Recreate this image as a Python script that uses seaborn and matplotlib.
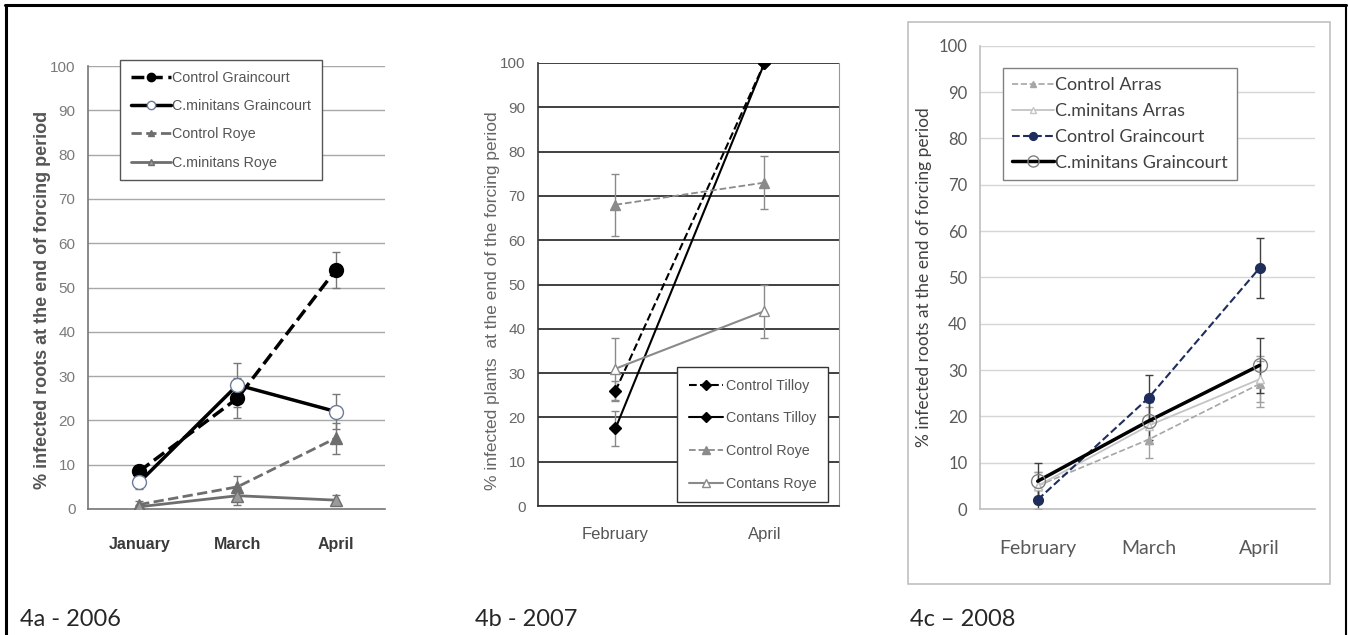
import numpy as np
import pandas as pd
import matplotlib
matplotlib.use("Agg")
import matplotlib.pyplot as plt
import seaborn as sns
from matplotlib.lines import Line2D
from matplotlib.patches import Rectangle

# ---- 4a - 2006 ----
months_a = ["January", "March", "April"]
ctrl_grain_a = [8.5, 25, 54]
ctrl_grain_a_err = [1.5, 4.5, 4]
cmin_grain_a = [6, 28, 22]
cmin_grain_a_err = [1.5, 5, 4]
ctrl_roye_a = [1, 5, 16]
ctrl_roye_a_err = [0.8, 2.5, 3.5]
cmin_roye_a = [0.5, 3, 2]
cmin_roye_a_err = [0.5, 2, 1.2]

# ---- 4b - 2007 ----
months_b = ["February", "April"]
ctrl_tilloy_b = [26, 100]
ctrl_tilloy_b_err = [2.2, 0]
cont_tilloy_b = [17.5, 100]
cont_tilloy_b_err = [4, 0]
ctrl_roye_b = [68, 73]
ctrl_roye_b_err = [7, 6]
cont_roye_b = [31, 44]
cont_roye_b_err = [7, 6]

# ---- 4c - 2008 ----
months_c = ["February", "March", "April"]
ctrl_arras_c = [5, 15, 27]
ctrl_arras_c_err = [3, 4, 5]
cmin_arras_c = [5, 18, 28]
cmin_arras_c_err = [3, 4, 5]
ctrl_grain_c = [2, 24, 52]
ctrl_grain_c_err = [2, 5, 6.5]
cmin_grain_c = [6, 19, 31]
cmin_grain_c_err = [4, 4, 6]

yticks = list(range(0, 101, 10))

W, H = 1349, 635

sns.set_style("white")
plt.rcParams["font.family"] = ["Liberation Sans", "DejaVu Sans"]
calib = ["Lato", "Open Sans", "DejaVu Sans"]


def px_axes(fig, left, top, right, bottom):
    return fig.add_axes([left / W, 1 - bottom / H, (right - left) / W, (bottom - top) / H])


def draw_series(ax, months, vals, errs, label, color, ls, lw, marker, ms, mfc, mec, ecolor):
    df = pd.DataFrame({"pos": np.arange(len(months)), "value": vals, "err": errs})
    ax.errorbar(df["pos"], df["value"], yerr=df["err"], fmt="none", ecolor=ecolor,
                elinewidth=1, capsize=3, capthick=1, zorder=2)
    sns.lineplot(data=df, x="pos", y="value", ax=ax, color=color, linestyle=ls,
                 linewidth=lw, marker=marker, markersize=ms, markerfacecolor=mfc,
                 markeredgecolor=mec, markeredgewidth=1, zorder=3, legend=False)
    line = ax.lines[-1]
    line.set_label(label)
    ax.set_xlabel("")
    return line


def style_axis(ax, months, grid_color, grid_lw, spine_color, right_color=None, xpad=12):
    ax.set_ylim(0, 100)
    ax.set_xlim(-0.52, len(months) - 0.5)
    ax.set_yticks(yticks)
    ax.set_xticks(range(len(months)))
    ax.set_xticklabels(months)
    ax.set_xticks([i - 0.5 for i in range(len(months) + 1)], minor=True)
    ax.tick_params(axis="x", which="major", length=0, pad=xpad)
    ax.tick_params(axis="x", which="minor", length=5, direction="out", color=spine_color)
    ax.tick_params(axis="y", length=5, direction="out", color=spine_color, pad=4)
    ax.yaxis.grid(True, color=grid_color, linewidth=grid_lw)
    ax.set_axisbelow(True)
    ax.set_xlabel("")
    for s in ["top", "right"]:
        ax.spines[s].set_visible(False)
    for s in ["left", "bottom"]:
        ax.spines[s].set_color(spine_color)
        ax.spines[s].set_linewidth(1.2)
    if right_color:
        ax.spines["right"].set_visible(True)
        ax.spines["right"].set_color(right_color)


fig = plt.figure(figsize=(W / 100, H / 100), dpi=100)

# ---------------- panel a ----------------
ax_a = px_axes(fig, 88, 66, 385, 509)
style_axis(ax_a, months_a, "#a8a8a8", 1.0, "#777777", xpad=20)
h_a = [
    draw_series(ax_a, months_a, ctrl_grain_a, ctrl_grain_a_err, "Control Graincourt",
                "black", "--", 2.5, "o", 10, "black", "black", "#777777"),
    draw_series(ax_a, months_a, cmin_grain_a, cmin_grain_a_err, "C.minitans Graincourt",
                "black", "-", 2.5, "o", 10, "white", "#6d7a99", "#777777"),
    draw_series(ax_a, months_a, ctrl_roye_a, ctrl_roye_a_err, "Control Roye",
                "#6e6e6e", "--", 2.0, "^", 8, "#6e6e6e", "#6e6e6e", "#777777"),
    draw_series(ax_a, months_a, cmin_roye_a, cmin_roye_a_err, "C.minitans Roye",
                "#6e6e6e", "-", 2.0, "^", 8, "#9a9a9a", "#6e6e6e", "#777777"),
]
for t in ax_a.get_yticklabels():
    t.set_fontsize(11)
    t.set_color("#7a7a7a")
for t in ax_a.get_xticklabels():
    t.set_fontsize(11.5)
    t.set_fontweight("bold")
    t.set_color("#3a3a3a")
ax_a.set_ylabel("% infected roots at the end of forcing period", fontsize=13,
                fontweight="bold", color="#555555", va="center")
ax_a.yaxis.set_label_coords((43 - 88) / 297, (509 - 300) / 443)
leg = ax_a.legend(handles=h_a, loc="upper left", bbox_to_anchor=((120 - 88) / 297, (509 - 60) / 443),
                  borderaxespad=0, frameon=True, fancybox=False, edgecolor="#555555",
                  framealpha=1, fontsize=10.3, handlelength=2.8, handletextpad=0.1,
                  labelspacing=1.0, borderpad=0.75, markerscale=0.6)
for t in leg.get_texts():
    t.set_color("#555555")

# ---------------- panel b ----------------
ax_b = px_axes(fig, 538, 63, 839, 506)
style_axis(ax_b, months_b, "#404040", 1.4, "#333333", right_color="#999999", xpad=15)
h_b = [
    draw_series(ax_b, months_b, ctrl_tilloy_b, ctrl_tilloy_b_err, "Control Tilloy",
                "black", "--", 1.5, "D", 6, "black", "black", "#888888"),
    draw_series(ax_b, months_b, cont_tilloy_b, cont_tilloy_b_err, "Contans Tilloy",
                "black", "-", 1.5, "D", 6, "black", "black", "#888888"),
    draw_series(ax_b, months_b, ctrl_roye_b, ctrl_roye_b_err, "Control Roye",
                "#8a8a8a", "--", 1.3, "^", 7, "#8a8a8a", "#8a8a8a", "#8a8a8a"),
    draw_series(ax_b, months_b, cont_roye_b, cont_roye_b_err, "Contans Roye",
                "#8a8a8a", "-", 1.5, "^", 7, "white", "#8a8a8a", "#8a8a8a"),
]
for t in ax_b.get_yticklabels():
    t.set_fontsize(11)
    t.set_color("#666666")
for t in ax_b.get_xticklabels():
    t.set_fontsize(12)
    t.set_color("#555555")
ax_b.set_ylabel("% infected plants  at the end of the forcing period", fontsize=12.5,
                color="#666666", va="center")
ax_b.yaxis.set_label_coords((493 - 538) / 301, (506 - 301) / 443)
leg = ax_b.legend(handles=h_b, loc="lower right", bbox_to_anchor=((828 - 538) / 301, (506 - 502) / 443),
                  borderaxespad=0, frameon=True, fancybox=False, edgecolor="#333333",
                  framealpha=1, fontsize=10.3, handlelength=2.4, handletextpad=0.2,
                  labelspacing=1.3, borderpad=0.8, markerscale=0.8)
for t in leg.get_texts():
    t.set_color("#555555")

# ---------------- panel c ----------------
fig.patches.append(Rectangle((908 / W, 1 - 584 / H), (1330 - 908) / W, (584 - 22) / H,
                             transform=fig.transFigure, fill=False, edgecolor="#c0c0c0",
                             linewidth=1.2))
ax_c = px_axes(fig, 980, 45.7, 1315, 509)
style_axis(ax_c, months_c, "#d6d6d6", 1.0, "#bfbfbf", xpad=22)
h_c = [
    draw_series(ax_c, months_c, ctrl_arras_c, ctrl_arras_c_err, "Control Arras",
                "#a6a6a6", "--", 1.2, "^", 6, "#a6a6a6", "#a6a6a6", "#a0a0a0"),
    draw_series(ax_c, months_c, cmin_arras_c, cmin_arras_c_err, "C.minitans Arras",
                "#c4c4c4", "-", 1.3, "^", 6, "white", "#c4c4c4", "#a0a0a0"),
    draw_series(ax_c, months_c, ctrl_grain_c, ctrl_grain_c_err, "Control Graincourt",
                "#1f2d5c", "--", 1.5, "o", 7, "#1f2d5c", "#1f2d5c", "#404040"),
    draw_series(ax_c, months_c, cmin_grain_c, cmin_grain_c_err, "C.minitans Graincourt",
                "black", "-", 2.5, "o", 10, "none", "#808080", "#404040"),
]
for t in ax_c.get_yticklabels():
    t.set_fontsize(12)
    t.set_color("#595959")
    t.set_family(calib)
for t in ax_c.get_xticklabels():
    t.set_fontsize(14)
    t.set_color("#595959")
    t.set_family(calib)
ax_c.set_ylabel("% infected roots at the end of forcing period", fontsize=12.5,
                color="#404040", va="center", family=calib)
ax_c.yaxis.set_label_coords((924 - 980) / 335, (509 - 277) / 463.3)
leg = ax_c.legend(handles=h_c, loc="upper left", bbox_to_anchor=((1003 - 980) / 335, (509 - 68) / 463.3),
                  borderaxespad=0, frameon=True, fancybox=False, edgecolor="#808080",
                  framealpha=1, prop={"family": calib, "size": 13}, handlelength=2.3,
                  handletextpad=0.1, labelspacing=0.55, borderpad=0.5, markerscale=0.8)
for t in leg.get_texts():
    t.set_color("#404040")

# ---------------- captions and outer frame ----------------
for x, txt in [(20, "4a - 2006"), (475, "4b - 2007"), (910, "4c \u2013 2008")]:
    fig.text(x / W, 1 - 620 / H, txt, fontsize=17, family=calib, va="center", ha="left")

fig.add_artist(Line2D([5 / W, 1346 / W], [1 - 5 / H, 1 - 5 / H], color="black", linewidth=2.2,
                      transform=fig.transFigure))
fig.add_artist(Line2D([6 / W, 6 / W], [0, 1 - 5 / H], color="black", linewidth=2.2,
                      transform=fig.transFigure))
fig.add_artist(Line2D([1345.5 / W, 1345.5 / W], [0, 1 - 5 / H], color="black", linewidth=1.5,
                      transform=fig.transFigure))

fig.savefig("out.png", dpi=100)
